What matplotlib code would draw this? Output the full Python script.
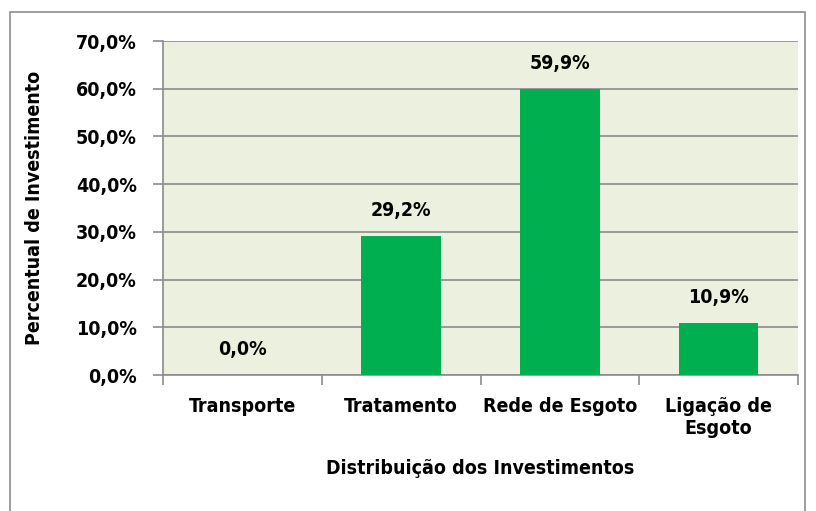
import matplotlib.pyplot as plt
from matplotlib.patches import Rectangle

categorias = ["Transporte", "Tratamento", "Rede de Esgoto", "Ligação de\nEsgoto"]
percentuais = [0.0, 29.2, 59.9, 10.9]
yticks = [0, 10, 20, 30, 40, 50, 60, 70]

plt.rcParams['font.family'] = ['DejaVu Sans']
plt.rcParams['font.stretch'] = 'condensed'
plt.rcParams['font.weight'] = 'bold'

fig = plt.figure(figsize=(8.16, 5.11), dpi=100)
ax = fig.add_axes([163/816, 1 - 375/511, (798-163)/816, (375-41)/511])

x = range(len(categorias))
ax.bar(x, percentuais, width=0.5, color="#00B050", zorder=3)
for xi, v in zip(x, percentuais):
    ax.text(xi, v + 3.3, f"{v:.1f}%".replace(".", ","), ha="center", va="bottom",
            fontsize=14, fontweight="bold")

ax.set_xlim(-0.5, len(categorias) - 0.5)
ax.set_ylim(0, 70)
ax.set_yticks(yticks)
ax.set_yticklabels([f"{t:.1f}%".replace(".", ",") for t in yticks], fontsize=14, fontweight="bold")
ax.set_facecolor("#EBF1DE")
ax.yaxis.grid(True, color="#8C8C8C", linewidth=1.2, zorder=0)

ax.set_xticks([i - 0.5 for i in range(len(categorias) + 1)], minor=False)
ax.set_xticklabels([])
ax.set_xticks(list(x), minor=True)
ax.set_xticklabels(categorias, minor=True, fontsize=14, fontweight="bold")
ax.tick_params(axis="x", which="minor", length=0, pad=16)
ax.tick_params(axis="x", which="major", length=7, width=1.2, color="#8C8C8C")
ax.tick_params(axis="y", length=7, width=1.2, color="#8C8C8C", pad=12)

for s in ["top", "right"]:
    ax.spines[s].set_visible(False)
for s in ["left", "bottom"]:
    ax.spines[s].set_color("#8C8C8C")
    ax.spines[s].set_linewidth(1.2)

ax.set_xlabel("Distribuição dos Investimentos", fontsize=14, fontweight="bold", labelpad=15)
ax.set_ylabel("Percentual de Investimento", fontsize=14, fontweight="bold", labelpad=23)

fig.patches.append(Rectangle((10/816, -0.1), (805-10)/816, 1.1 - 12/511,
                             transform=fig.transFigure, fill=False,
                             edgecolor="#8C8C8C", linewidth=1.2))

fig.savefig("out.png", dpi=100)
